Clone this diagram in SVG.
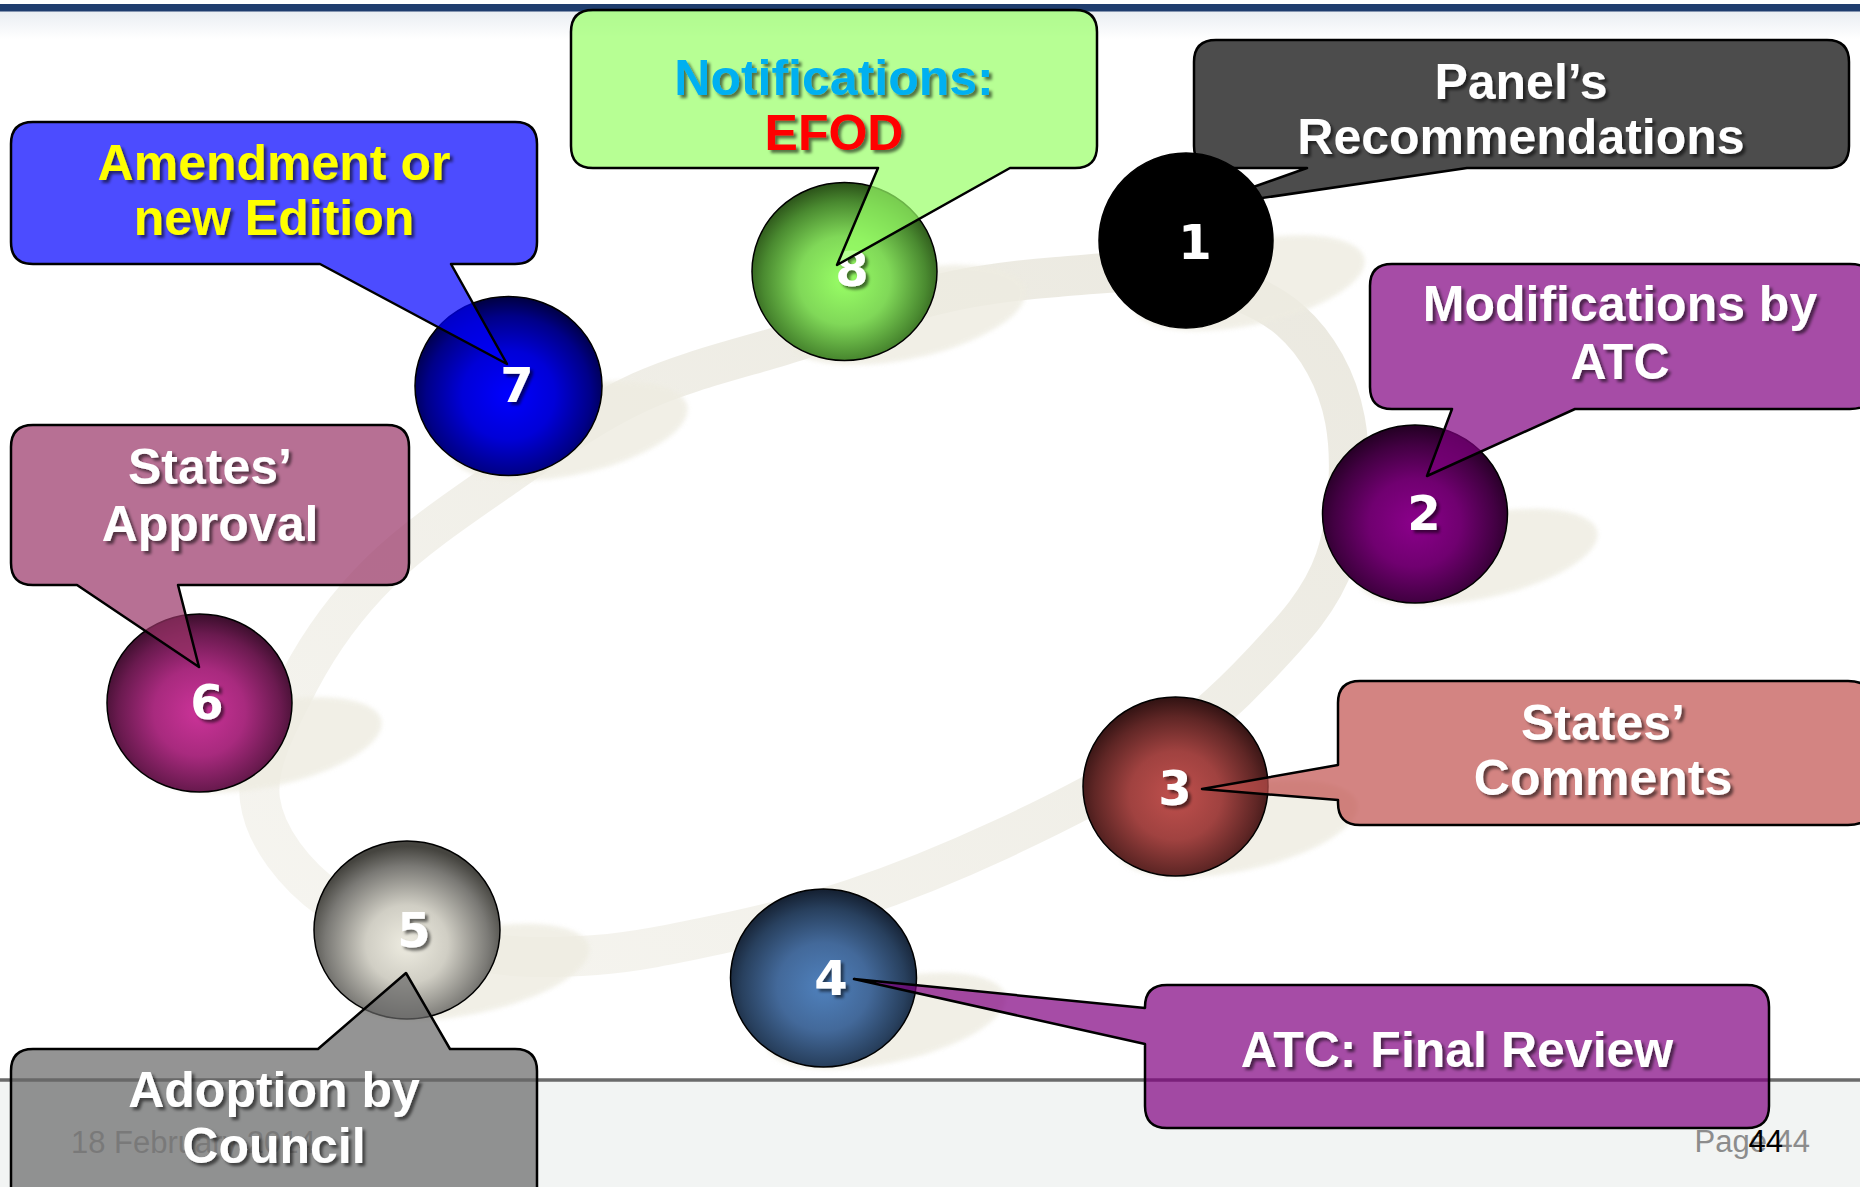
<svg xmlns="http://www.w3.org/2000/svg" width="1860" height="1187" viewBox="0 0 1860 1187">
<style>
.box{stroke:#000;stroke-width:2.5;fill-opacity:0.7;stroke-linejoin:round}
.lbl{font-family:"Liberation Sans",Arial,sans-serif;font-weight:bold;font-size:50px;text-anchor:middle;fill:#fff;filter:url(#ts)}
.num{font-family:"DejaVu Sans",Verdana,sans-serif;font-weight:bold;font-size:48px;text-anchor:middle;fill:#fff;filter:url(#ts)}
.ball{stroke:#000;stroke-width:1.5}
.shadow{fill:#EEECE1;opacity:0.8;filter:url(#blur)}
.foot{font-family:"Liberation Sans",Arial,sans-serif;font-size:31px}
</style>
<defs>
<filter id="ts" x="-10%" y="-20%" width="130%" height="150%">
<feDropShadow dx="3" dy="3" stdDeviation="1.5" flood-color="#000" flood-opacity="0.55"/>
</filter>
<filter id="blur" x="-10%" y="-30%" width="120%" height="160%"><feGaussianBlur stdDeviation="2"/></filter>
<linearGradient id="topfade" x1="0" y1="0" x2="0" y2="1"><stop offset="0" stop-color="#E9EDF2"/><stop offset="1" stop-color="#FFFFFF"/></linearGradient>
<linearGradient id="ringg" x1="0" y1="1" x2="1" y2="0"><stop offset="0" stop-color="#F6F5F0"/><stop offset="1" stop-color="#EBE9E0"/></linearGradient>
<radialGradient id="g7" cx="0.5" cy="0.55" r="0.55"><stop offset="0" stop-color="#0000FF"/><stop offset="0.45" stop-color="#0000D8"/><stop offset="0.8" stop-color="#000088"/><stop offset="1" stop-color="#000040"/></radialGradient>
<radialGradient id="g8" cx="0.5" cy="0.55" r="0.55"><stop offset="0" stop-color="#99FF66"/><stop offset="0.45" stop-color="#80D858"/><stop offset="0.8" stop-color="#4A8A30"/><stop offset="1" stop-color="#2A5018"/></radialGradient>
<radialGradient id="g2" cx="0.5" cy="0.55" r="0.55"><stop offset="0" stop-color="#8B008B"/><stop offset="0.45" stop-color="#700070"/><stop offset="0.8" stop-color="#420042"/><stop offset="1" stop-color="#220022"/></radialGradient>
<radialGradient id="g3" cx="0.5" cy="0.55" r="0.55"><stop offset="0" stop-color="#C0504D"/><stop offset="0.45" stop-color="#A04240"/><stop offset="0.8" stop-color="#5F2625"/><stop offset="1" stop-color="#301212"/></radialGradient>
<radialGradient id="g4" cx="0.5" cy="0.55" r="0.55"><stop offset="0" stop-color="#4F81BD"/><stop offset="0.45" stop-color="#43699A"/><stop offset="0.8" stop-color="#28405E"/><stop offset="1" stop-color="#141F30"/></radialGradient>
<radialGradient id="g5" cx="0.5" cy="0.58" r="0.55"><stop offset="0" stop-color="#EEECE1"/><stop offset="0.4" stop-color="#D0CEC4"/><stop offset="0.8" stop-color="#7A7975"/><stop offset="1" stop-color="#45443F"/></radialGradient>
<radialGradient id="g6" cx="0.5" cy="0.55" r="0.55"><stop offset="0" stop-color="#CC3399"/><stop offset="0.45" stop-color="#A82A7E"/><stop offset="0.8" stop-color="#6A1A4F"/><stop offset="1" stop-color="#3A0E2B"/></radialGradient>
</defs>

<g id="background">
<rect x="0" y="0" width="1860" height="1187" fill="#FFFFFF"/>
<rect x="0" y="11" width="1860" height="28" fill="url(#topfade)"/>
<rect x="0" y="4" width="1860" height="7.5" fill="#1F3D6E"/>
<rect x="0" y="1080" width="1860" height="107" fill="#F2F4F3"/>
<line x1="0" y1="1080" x2="1860" y2="1080" stroke="#6B6B6B" stroke-width="3.5"/>
<text class="foot" x="71" y="1153" fill="#A6A6A6">18 February 2014</text>
<text class="foot" x="1810" y="1151.5" fill="#8C8C8C" text-anchor="end">Page 44</text>
<text class="foot" x="1748.5" y="1151.5" fill="#000000">44</text>
</g>

<g id="connectors">
<path d="M 260 800 C 255 763 280 718 300 680 C 320 642 345.5 606 380 572 C 414.5 538 463.7 505 507 475 C 550 445 591 414.5 640 392 C 689 369.5 751 356 800 340 C 849 324 892 305.5 935 295 C 978 284.5 1016 280 1057 277 C 1098 274 1141 268 1180 275 C 1219 282 1262.5 296 1290 320 C 1317.5 344 1337.5 380 1345 420 C 1352.5 460 1349 519 1335 560 C 1321 601 1291 632 1260 665 C 1229 698 1193 731 1150 760 C 1107 789 1049.5 817 1000 840 C 950.5 863 898 884 853 899 C 808 914 773 923 730 932 C 687 941 639 952 596 955 C 553 958 514 959 470 950 C 426 941 365 925 330 900 C 295 875 265 837 260 800 Z" fill="none" stroke="url(#ringg)" stroke-width="40" stroke-linejoin="round"/>
</g>

<g id="shadows">
<ellipse class="shadow" cx="1249" cy="283" rx="118" ry="42" transform="rotate(-12 1249 283)"/>
<ellipse class="shadow" cx="1478" cy="557" rx="122" ry="42" transform="rotate(-12 1478 557)"/>
<ellipse class="shadow" cx="1238" cy="829" rx="122" ry="42" transform="rotate(-12 1238 829)"/>
<ellipse class="shadow" cx="886" cy="1021" rx="122" ry="42" transform="rotate(-12 886 1021)"/>
<ellipse class="shadow" cx="470" cy="972" rx="122" ry="42" transform="rotate(-12 470 972)"/>
<ellipse class="shadow" cx="266" cy="745" rx="118" ry="42" transform="rotate(-12 266 745)"/>
<ellipse class="shadow" cx="570" cy="431" rx="120" ry="44" transform="rotate(-12 570 431)"/>
<ellipse class="shadow" cx="906" cy="315" rx="122" ry="44" transform="rotate(-12 906 315)"/>
</g>

<g id="node-8">
<ellipse class="ball" cx="844.5" cy="271.5" rx="92.5" ry="89" fill="url(#g8)"/>
<text class="num" x="852" y="286">8</text>
<path class="box" fill="#99FF66" d="M 593 10 H 1075 Q 1097 10 1097 32 V 146 Q 1097 168 1075 168 H 1010 L 837 265 L 878 168 H 593 Q 571 168 571 146 V 32 Q 571 10 593 10 Z"/>
<text class="lbl" x="834" y="95" fill="#00B0F0" style="fill:#00B0F0">Notifications:</text>
<text class="lbl" x="834" y="150" style="fill:#FF0000">EFOD</text>
</g>

<g id="node-7">
<ellipse class="ball" cx="508.5" cy="386" rx="93.5" ry="89.5" fill="url(#g7)"/>
<text class="num" x="517" y="402">7</text>
<path class="box" fill="#0000FF" d="M 33 122 H 515 Q 537 122 537 144 V 242 Q 537 264 515 264 H 451 L 507 364 L 320 264 H 33 Q 11 264 11 242 V 144 Q 11 122 33 122 Z"/>
<text class="lbl" x="274" y="180" style="fill:#FFFF00">Amendment or</text>
<text class="lbl" x="274" y="235" style="fill:#FFFF00">new Edition</text>
</g>

<g id="node-6">
<ellipse class="ball" cx="199.5" cy="703" rx="92.5" ry="89" fill="url(#g6)"/>
<text class="num" x="207" y="719">6</text>
<path class="box" fill="#993366" d="M 33 425 H 387 Q 409 425 409 447 V 563 Q 409 585 387 585 H 178 L 199 667 L 77 585 H 33 Q 11 585 11 563 V 447 Q 11 425 33 425 Z"/>
<text class="lbl" x="210" y="484">States’</text>
<text class="lbl" x="210" y="541">Approval</text>
</g>

<g id="node-5">
<ellipse class="ball" cx="407" cy="930" rx="93" ry="89" fill="url(#g5)"/>
<text class="num" x="414" y="947">5</text>
<path class="box" fill="#666666" d="M 33 1049 H 318 L 406 973 L 450 1049 H 515 Q 537 1049 537 1071 V 1215 H 11 V 1071 Q 11 1049 33 1049 Z"/>
<text class="lbl" x="274" y="1107">Adoption by</text>
<text class="lbl" x="274" y="1163">Council</text>
</g>

<g id="node-4">
<ellipse class="ball" cx="823.5" cy="978" rx="93" ry="89" fill="url(#g4)"/>
<text class="num" x="831" y="995">4</text>
<path class="box" fill="#800080" d="M 1167 985 H 1747 Q 1769 985 1769 1007 V 1106 Q 1769 1128 1747 1128 H 1167 Q 1145 1128 1145 1106 V 1044 L 854 979 L 1145 1008 V 1007 Q 1145 985 1167 985 Z"/>
<text class="lbl" x="1457" y="1067">ATC: Final Review</text>
</g>

<g id="node-3">
<ellipse class="ball" cx="1175.5" cy="786.5" rx="92.5" ry="89.5" fill="url(#g3)"/>
<text class="num" x="1175" y="805">3</text>
<path class="box" fill="#C0504D" d="M 1360 681 H 1848 Q 1872 681 1872 703 V 803 Q 1872 825 1848 825 H 1360 Q 1338 825 1338 803 V 800 L 1202 789 L 1338 765 V 703 Q 1338 681 1360 681 Z"/>
<text class="lbl" x="1603" y="740">States’</text>
<text class="lbl" x="1603" y="795">Comments</text>
</g>

<g id="node-2">
<ellipse class="ball" cx="1415" cy="514" rx="92.5" ry="89" fill="url(#g2)"/>
<text class="num" x="1424" y="530">2</text>
<path class="box" fill="#800080" d="M 1392 264 H 1850 Q 1874 264 1874 286 V 387 Q 1874 409 1850 409 H 1575 L 1427 476 L 1452 409 H 1392 Q 1370 409 1370 387 V 286 Q 1370 264 1392 264 Z"/>
<text class="lbl" x="1620" y="321">Modifications by</text>
<text class="lbl" x="1620" y="379">ATC</text>
</g>

<g id="node-1">
<path class="box" fill="#000000" d="M 1216 40 H 1827 Q 1849 40 1849 62 V 146 Q 1849 168 1827 168 H 1467 L 1194 208 L 1307 168 H 1216 Q 1194 168 1194 146 V 62 Q 1194 40 1216 40 Z"/>
<text class="lbl" x="1521" y="99">Panel’s</text>
<text class="lbl" x="1521" y="154">Recommendations</text>
<ellipse class="ball" cx="1186" cy="240.5" rx="87" ry="87.5" fill="#000000"/>
<text class="num" x="1195" y="259">1</text>
</g>
</svg>
